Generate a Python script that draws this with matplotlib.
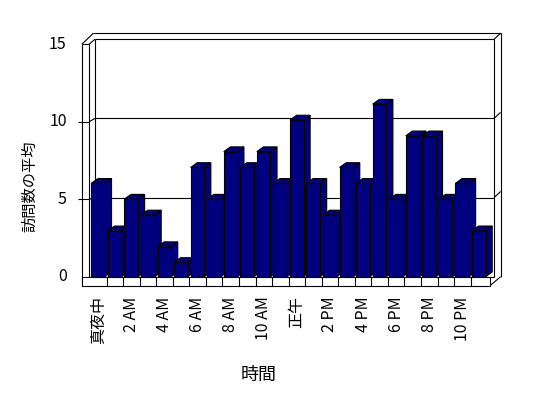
import matplotlib
matplotlib.use("Agg")
import matplotlib.pyplot as plt
from matplotlib.patches import Polygon, Rectangle

plt.rcParams['font.family'] = ['Noto Sans CJK JP', 'DejaVu Sans']

# average visits per hour (0..23)
hours = list(range(24))
visits = [6, 3, 5, 4, 2, 1, 7, 5, 8, 7, 8, 6,
          10, 6, 4, 7, 6, 11, 5, 9, 9, 5, 6, 3]
tick_labels = ['真夜中', '2 AM', '4 AM', '6 AM', '8 AM', '10 AM',
               '正午', '2 PM', '4 PM', '6 PM', '8 PM', '10 PM']
y_ticks = [0, 5, 10, 15]

BAR = '#000080'
W, H = 548, 398

fig = plt.figure(figsize=(W / 100, H / 100), dpi=100)
# pixel layout: x = 98.3 + 16.55*k, y = 276.7 - 15.83*v
x0, y0 = -1.5, -1.0
x1, y1 = 25.0, 16.5
left = (98.3 + 16.55 * x0) / W
right = (98.3 + 16.55 * x1) / W
top = (276.7 - 15.83 * y1)
bot = (276.7 - 15.83 * y0)
ax = fig.add_axes([left, (H - bot) / H, right - left, (bot - top) / H])
ax.set_xlim(x0, x1)
ax.set_ylim(y0, y1)
ax.axis('off')

lw = 0.8
k = dict(color='black', lw=lw, zorder=1, solid_capstyle='butt')

# 3d depth offsets
dx, dy = 0.4, 0.3
wl, wr = -0.2, 23.91       # back wall inner left / right
ol, otop = -0.3, 15.38     # outer back edge
orr = 24.31
fl, fr, fb = -1.0, 23.64, -0.59   # floor front face
ym = max(y_ticks)
fy = lambda v: v * 14.68 / 15.0   # front-edge height of an axis value

# back wall + gridlines
for v in y_ticks:
    ax.plot([wl, wr], [v, v], **k)
ax.plot([wl, wl], [0, ym], **k)
ax.plot([wr, wr], [0, ym], **k)
# top slab of the back wall
ax.plot([ol, orr], [otop, otop], **k)
ax.plot([wr, orr], [ym, otop], **k)
ax.plot([orr, orr], [otop, 0], **k)
ax.plot([orr, fr], [0, fb], **k)
for v in y_ticks[1:-1]:
    ax.plot([wr, orr], [v, v + 0.38], **k)

# left wall
ax.plot([fl, fl], [fb, fy(ym)], **k)
ax.plot([-0.56, -0.56], [0, fy(ym)], **k)
ax.plot([fl, -0.56], [fy(ym), fy(ym)], **k)
ax.plot([fl, ol], [fy(ym), otop], **k)
ax.plot([-0.56, wl], [fy(ym), ym], **k)
for v in y_ticks[1:-1]:
    ax.plot([fl - 0.2, -0.56], [fy(v), fy(v)], **k)
    ax.plot([-0.56, wl], [fy(v), v], **k)
for v in y_ticks:
    ax.text(-1.9, fy(v), str(v), ha='right', va='center', fontsize=11.5)

# floor front face
ax.add_patch(Rectangle((fl, fb), fr - fl, -fb, fc='white', ec='black',
                       lw=lw, zorder=3))
for h in hours[:-1]:
    ax.plot([h + 0.5, h + 0.5], [fb, 0], color='black', lw=lw, zorder=3)

# bars, drawn left to right so each covers the side of the previous one
for h, v in zip(hours, visits):
    a, b = h - 0.42, h + 0.40
    t = v - 0.1
    pe = dict(fc=BAR, ec='black', lw=lw, zorder=2, joinstyle='miter')
    ax.add_patch(Polygon([(b, 0), (b + dx, dy), (b + dx, t + dy), (b, t)], **pe))
    ax.add_patch(Polygon([(a, t), (b, t), (b + dx, t + dy), (a + dx, t + dy)], **pe))
    ax.add_patch(Polygon([(a, 0), (b, 0), (b, t), (a, t)], **pe))

for i, lab in enumerate(tick_labels):
    ax.text(hours[2 * i], -1.25, lab, rotation=90, ha='center', va='top',
            fontsize=11.5)

fig.text(259 / W, 1 - 375 / H, '時間', ha='center', va='center', fontsize=13)
fig.text(30 / W, 1 - 186 / H, '訪問数の平均', rotation=90, ha='center',
         va='center', fontsize=11)

fig.savefig('out.png', dpi=100)
